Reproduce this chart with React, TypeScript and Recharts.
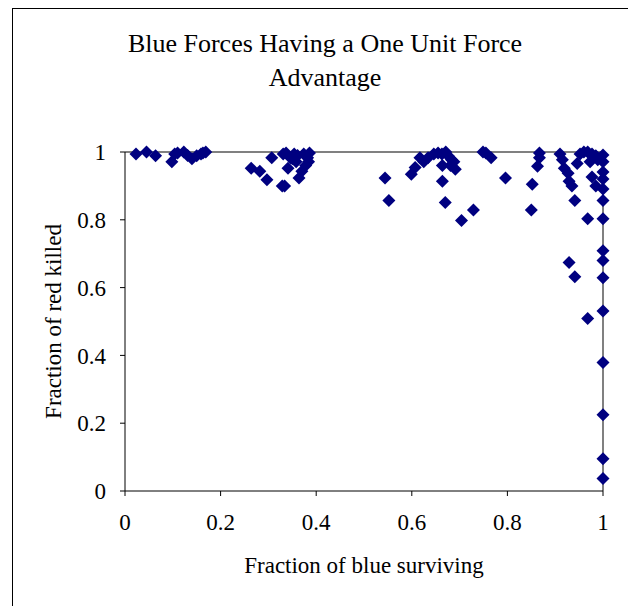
import { ScatterChart, Scatter, XAxis, YAxis, ReferenceLine, Label } from "recharts";

// fraction of blue surviving (x) / fraction of red killed (y)
const blueSurviving = [
  0.023, 0.045, 0.064, 0.098, 0.104, 0.11, 0.123, 0.131, 0.14, 0.15, 0.159, 0.169, 0.163,
  0.264, 0.282, 0.297, 0.307, 0.329, 0.334, 0.331, 0.337, 0.341, 0.346, 0.354, 0.358, 0.364,
  0.37, 0.374, 0.382, 0.386, 0.378, 0.384, 0.35, 0.361,
  0.544, 0.552,
  0.599, 0.607, 0.617, 0.625, 0.634, 0.646, 0.655, 0.663, 0.671, 0.676, 0.683, 0.681, 0.688,
  0.664, 0.67, 0.691, 0.664, 0.704, 0.729,
  0.749, 0.755, 0.766, 0.796,
  0.85, 0.852, 0.863, 0.867, 0.867,
  0.91, 0.915, 0.919, 0.927, 0.929, 0.935, 0.941, 0.946, 0.952, 0.96, 0.968, 0.977, 0.973,
  0.985, 0.989, 0.977, 0.985, 0.968, 0.929, 0.941, 0.968,
  1, 1, 1, 1, 1, 1, 1, 1, 1, 1, 1, 1, 1, 1, 1,
];

const redKilled = [
  0.994, 1.0, 0.989, 0.971, 0.994, 0.997, 1.0, 0.99, 0.98, 0.989, 0.994, 1.0, 0.997,
  0.952, 0.943, 0.918, 0.983, 0.9, 0.9, 0.994, 0.997, 0.952, 0.983, 0.994, 0.971, 0.923,
  0.943, 0.994, 0.983, 0.997, 0.96, 0.971, 0.98, 0.99,
  0.923, 0.857,
  0.934, 0.954, 0.983, 0.971, 0.983, 0.994, 0.997, 0.994, 1.0, 0.989, 0.977, 0.96, 0.971,
  0.914, 0.851, 0.949, 0.96, 0.798, 0.829,
  1.0, 0.997, 0.983, 0.923,
  0.829, 0.905, 0.958, 0.997, 0.983,
  0.994, 0.977, 0.952, 0.937, 0.914, 0.9, 0.857, 0.966, 0.994, 1.0, 1.0, 0.994, 0.971,
  0.989, 0.977, 0.926, 0.9, 0.803, 0.674, 0.632, 0.509,
  0.991, 0.971, 0.941, 0.92, 0.891, 0.857, 0.803, 0.709, 0.68, 0.629, 0.531, 0.379, 0.225, 0.095, 0.037,
];

const xTicks = [0, 0.2, 0.4, 0.6, 0.8, 1];
const yTicks = [0, 0.2, 0.4, 0.6, 0.8, 1];

const titleLines = ["Blue Forces Having a One Unit Force", "Advantage"];

const points = blueSurviving.map((x, i) => ({ x, y: redKilled[i] }));

const FONT = "'Liberation Serif', 'Times New Roman', serif";

const Diamond = (props: any) => {
  const { cx, cy } = props;
  const r = 6.5;
  return (
    <polygon
      points={`${cx},${cy - r} ${cx + r},${cy} ${cx},${cy + r} ${cx - r},${cy}`}
      fill="#000080"
    />
  );
};

export default function App() {
  return (
    <div style={{ position: "absolute", left: 0, top: 0, width: 628, height: 606, background: "#fff", overflow: "hidden" }}>
      <div style={{ position: "absolute", left: 12, top: 8, width: 640, height: 620, border: "1px solid #000" }} />
      <svg width={628} height={120} style={{ position: "absolute", left: 0, top: 0 }}>
        {titleLines.map((t, i) => (
          <text key={i} x={325} y={52 + i * 34} textAnchor="middle" fontSize={26} fontFamily={FONT} fill="#000">
            {t}
          </text>
        ))}
      </svg>
      <ScatterChart
        width={628}
        height={606}
        margin={{ top: 152, right: 25, bottom: 75, left: 65 }}
        style={{ position: "absolute", left: 0, top: 0 }}
      >
        <XAxis
          type="number"
          dataKey="x"
          domain={[0, 1]}
          ticks={xTicks}
          height={40}
          tickSize={5}
          tickMargin={18}
          fontSize={23}
          fontFamily={FONT}
          axisLine={{ stroke: "#000" }}
          tickLine={{ stroke: "#000" }}
          tick={{ fill: "#000", fontSize: 23, fontFamily: FONT }}
        >
          <Label value="Fraction of blue surviving" position="bottom" offset={26} fill="#000" fontSize={23} fontFamily={FONT} />
        </XAxis>
        <YAxis
          type="number"
          dataKey="y"
          domain={[0, 1]}
          ticks={yTicks}
          width={60}
          tickSize={5}
          tickMargin={14}
          fontSize={23}
          fontFamily={FONT}
          axisLine={{ stroke: "#000" }}
          tickLine={{ stroke: "#000" }}
          tick={{ fill: "#000", fontSize: 23, fontFamily: FONT }}
        >
          <Label value="Fraction of red killed" angle={-90} position="left" offset={12} fill="#000" fontSize={23} fontFamily={FONT} style={{ textAnchor: "middle" }} />
        </YAxis>
        <ReferenceLine y={1} stroke="#808080" strokeWidth={2} />
        <ReferenceLine x={1} stroke="#808080" strokeWidth={2} />
        <Scatter data={points} shape={<Diamond />} isAnimationActive={false} />
      </ScatterChart>
    </div>
  );
}
